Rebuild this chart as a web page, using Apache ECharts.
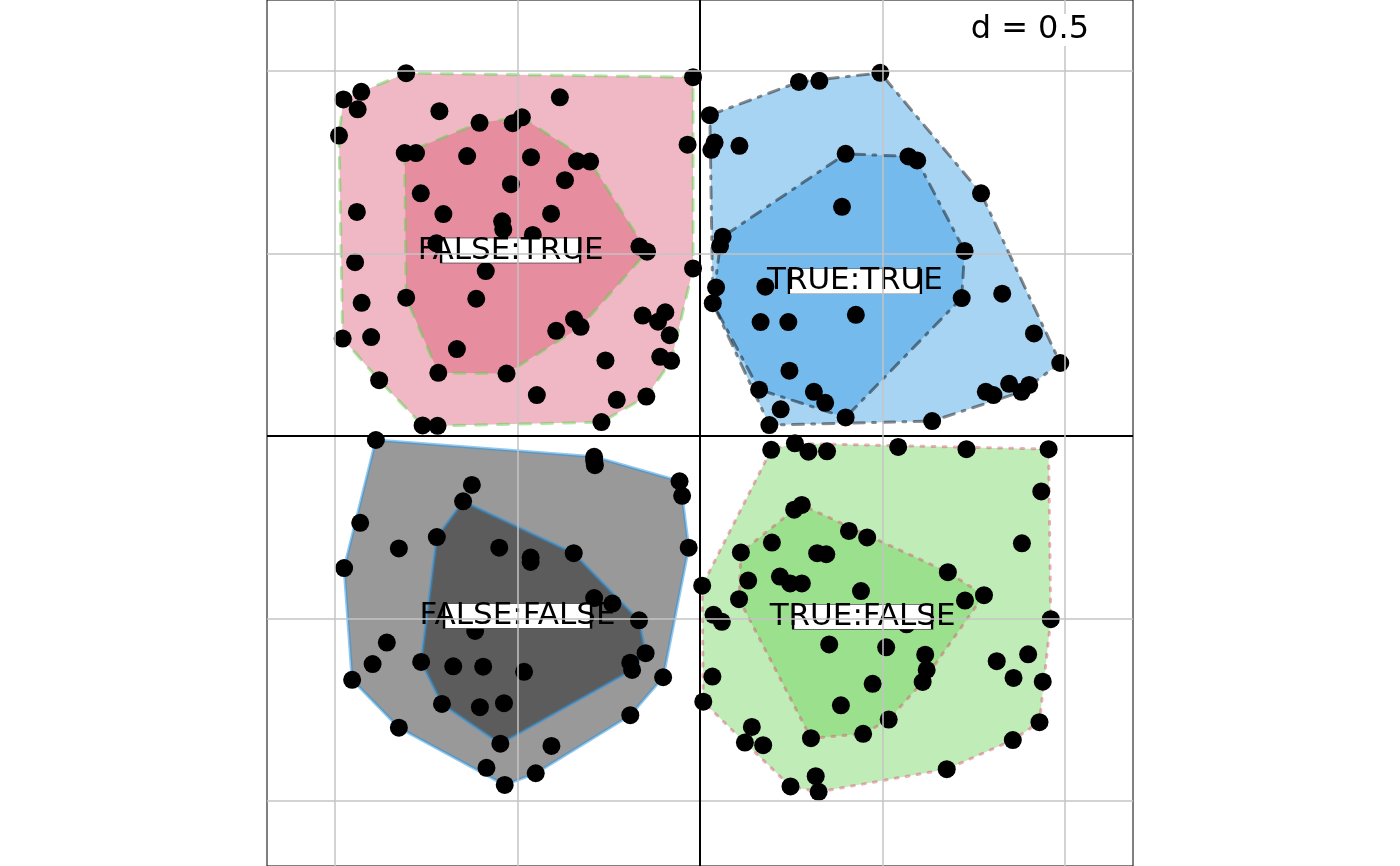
<!DOCTYPE html>
<html lang="en">
<head>
<meta charset="UTF-8">
<title>s.class FALSE/TRUE</title>
<script src="https://cdn.jsdelivr.net/npm/echarts@6.0.0/dist/echarts.min.js"></script>
<style>
	html, body { margin: 0; padding: 0; background: #fff; }
	#main { width: 1400px; height: 866px; }
</style>
</head>
<body>
<div id="main"></div>
<script>
// factor levels, in plotting order
var groups = ['FALSE:FALSE', 'FALSE:TRUE', 'TRUE:FALSE', 'TRUE:TRUE'];

// scores of each group (x, y)
var ptsFalseFalse = [
	[-0.888, -0.011], [-0.290, -0.057], [-0.290, -0.067], [-0.288, -0.080], [-0.056, -0.124],
	[-0.049, -0.164], [-0.625, -0.134], [-0.649, -0.179], [-0.931, -0.238], [-0.825, -0.308],
	[-0.721, -0.277], [-0.550, -0.306], [-0.464, -0.333], [-0.464, -0.345], [-0.346, -0.321],
	[-0.031, -0.306], [-0.975, -0.362], [-0.290, -0.444], [-0.240, -0.459], [-0.167, -0.505],
	[-0.616, -0.534], [-0.149, -0.595], [-0.191, -0.621], [-0.186, -0.641], [-0.101, -0.661],
	[-0.858, -0.566], [-0.897, -0.625], [-0.953, -0.668], [-0.764, -0.619], [-0.676, -0.631],
	[-0.594, -0.632], [-0.482, -0.646], [-0.707, -0.734], [-0.603, -0.743], [-0.537, -0.732],
	[-0.825, -0.799], [-0.191, -0.765], [-0.547, -0.843], [-0.407, -0.849], [-0.585, -0.909],
	[-0.450, -0.924], [-0.535, -0.956]
];
var ptsFalseTrue = [
	[-0.805, 0.994], [-0.928, 0.943], [-0.977, 0.922], [-0.938, 0.895], [-0.989, 0.823],
	[-0.714, 0.890], [-0.604, 0.858], [-0.513, 0.857], [-0.488, 0.873], [-0.384, 0.928],
	[-0.019, 0.983], [-0.034, 0.798], [-0.809, 0.775], [-0.778, 0.775], [-0.638, 0.767],
	[-0.463, 0.764], [-0.337, 0.753], [-0.301, 0.752], [-0.370, 0.701], [-0.518, 0.690],
	[-0.765, 0.665], [-0.703, 0.608], [-0.542, 0.588], [-0.539, 0.566], [-0.408, 0.609],
	[-0.940, 0.614], [-0.722, 0.528], [-0.458, 0.551], [-0.166, 0.519], [-0.145, 0.505],
	[-0.945, 0.476], [-0.019, 0.459], [-0.587, 0.452], [-0.805, 0.379], [-0.613, 0.376],
	[-0.927, 0.365], [-0.157, 0.330], [-0.095, 0.339], [-0.115, 0.313], [-0.083, 0.276],
	[-0.345, 0.320], [-0.327, 0.299], [-0.394, 0.288], [-0.979, 0.267], [-0.901, 0.271],
	[-0.666, 0.238], [-0.259, 0.207], [-0.109, 0.217], [-0.079, 0.206], [-0.879, 0.153],
	[-0.717, 0.173], [-0.530, 0.171], [-0.447, 0.112], [-0.228, 0.099], [-0.147, 0.108],
	[-0.270, 0.038], [-0.760, 0.029], [-0.719, 0.028]
];
var ptsTrueFalse = [
	[0.195, -0.038], [0.260, -0.020], [0.297, -0.043], [0.348, -0.042], [0.543, -0.030],
	[0.730, -0.036], [0.955, -0.036], [0.935, -0.152], [0.258, -0.202], [0.279, -0.189],
	[0.882, -0.294], [0.408, -0.260], [0.458, -0.278], [0.112, -0.319], [0.197, -0.292],
	[0.321, -0.321], [0.346, -0.324], [0.679, -0.373], [0.778, -0.436], [0.726, -0.451],
	[0.006, -0.410], [0.132, -0.396], [0.107, -0.447], [0.219, -0.385], [0.247, -0.404],
	[0.279, -0.404], [0.441, -0.425], [0.037, -0.490], [0.060, -0.509], [0.961, -0.502],
	[0.566, -0.516], [0.354, -0.571], [0.510, -0.579], [0.617, -0.599], [0.621, -0.641],
	[0.610, -0.674], [0.813, -0.617], [0.899, -0.598], [0.859, -0.663], [0.939, -0.673],
	[0.473, -0.679], [0.034, -0.659], [0.009, -0.728], [0.386, -0.738], [0.517, -0.777],
	[0.447, -0.816], [0.304, -0.828], [0.142, -0.797], [0.123, -0.840], [0.173, -0.847],
	[0.930, -0.784], [0.857, -0.833], [0.676, -0.913], [0.317, -0.932], [0.248, -0.960],
	[0.325, -0.975]
];
var ptsTrueTrue = [
	[0.494, 0.995], [0.271, 0.970], [0.327, 0.973], [0.027, 0.879], [0.040, 0.804],
	[0.031, 0.784], [0.108, 0.795], [0.399, 0.773], [0.571, 0.766], [0.595, 0.755],
	[0.770, 0.665], [0.389, 0.628], [0.062, 0.546], [0.055, 0.521], [0.725, 0.507],
	[0.044, 0.407], [0.179, 0.409], [0.035, 0.364], [0.717, 0.378], [0.828, 0.390],
	[0.166, 0.312], [0.242, 0.312], [0.427, 0.332], [0.915, 0.281], [0.987, 0.200],
	[0.245, 0.179], [0.162, 0.127], [0.312, 0.121], [0.343, 0.091], [0.221, 0.073],
	[0.399, 0.051], [0.190, 0.030], [0.636, 0.041], [0.783, 0.121], [0.804, 0.112],
	[0.847, 0.143], [0.881, 0.121], [0.902, 0.140]
];

// reference grid and the shown window
var gridTicks = [-1, -0.5, 0, 0.5, 1];
var gridLabel = 'd = 0.5';
var xLim = [-1.1863, 1.1863];
var yLim = [-1.1781, 1.1945];
// fractions of points kept in each convex hull
var chullSize = [1, 0.5];

var groupPoints = [ptsFalseFalse, ptsFalseTrue, ptsTrueFalse, ptsTrueTrue];

var fillCols = ['rgba(0,0,0,0.4)', 'rgba(217,77,107,0.4)', 'rgba(98,208,78,0.4)', 'rgba(38,148,228,0.4)'];
var lineCols = ['rgba(38,148,228,0.5)', 'rgba(98,208,78,0.5)', 'rgba(217,77,107,0.45)', 'rgba(0,0,0,0.45)'];
var lineDashes = [null, [11, 11], [2.8, 8.3], [2.8, 8.3, 11, 8.3]];

function mean(p) {
	var sx = 0, sy = 0;
	p.forEach(function (q) { sx += q[0]; sy += q[1]; });
	return [sx / p.length, sy / p.length];
}

// R's quantile type 7
function quantile(v, f) {
	var s = v.slice().sort(function (a, b) { return a - b; });
	var h = (s.length - 1) * f, lo = Math.floor(h);
	if (lo + 1 >= s.length) return s[lo];
	return s[lo] + (h - lo) * (s[lo + 1] - s[lo]);
}

function cross(o, a, b) {
	return (a[0] - o[0]) * (b[1] - o[1]) - (a[1] - o[1]) * (b[0] - o[0]);
}

function chull(p) {
	var s = p.slice().sort(function (a, b) { return a[0] - b[0] || a[1] - b[1]; });
	var lower = [], upper = [];
	s.forEach(function (q) {
		while (lower.length >= 2 && cross(lower[lower.length - 2], lower[lower.length - 1], q) <= 0) lower.pop();
		lower.push(q);
	});
	for (var i = s.length - 1; i >= 0; i--) {
		var q = s[i];
		while (upper.length >= 2 && cross(upper[upper.length - 2], upper[upper.length - 1], q) <= 0) upper.pop();
		upper.push(q);
	}
	lower.pop();
	upper.pop();
	return lower.concat(upper);
}

var centers = groupPoints.map(mean);

// hulls: all points, then the half closest to the centre
var polys = [];
groupPoints.forEach(function (p, gi) {
	var c = centers[gi];
	var d = p.map(function (q) { return Math.hypot(q[0] - c[0], q[1] - c[1]); });
	chullSize.forEach(function (f) {
		var lim = quantile(d, f) + 1e-12;
		var sub = p.filter(function (q, i) { return d[i] <= lim; });
		polys.push({ g: gi, pts: chull(sub) });
	});
});

// label boxes are narrower than the text, as in the original
var labelFont = '31px "DejaVu Sans"';
var ctx = document.createElement('canvas').getContext('2d');
ctx.font = labelFont;
var boxW = groups.map(function (g) { return Math.round(ctx.measureText(g).width * 0.75); });

var allPts = [];
groupPoints.forEach(function (p) { allPts = allPts.concat(p); });

var chart = echarts.init(document.getElementById('main'));

var gridLines = [];
gridTicks.forEach(function (v) {
	var ls = v === 0 ? { color: '#000', width: 2 } : { color: '#c4c4c4', width: 1.5 };
	gridLines.push({ xAxis: v, lineStyle: ls });
	gridLines.push({ yAxis: v, lineStyle: ls });
});

chart.setOption({
	animation: false,
	grid: { left: 267, top: 0, width: 866, height: 866, show: true, borderColor: '#000', borderWidth: 1, backgroundColor: 'transparent' },
	xAxis: { type: 'value', min: xLim[0], max: xLim[1], show: false },
	yAxis: { type: 'value', min: yLim[0], max: yLim[1], show: false },
	graphic: [{
		type: 'text',
		right: 1400 - 1089,
		top: 14,
		z: 100,
		style: { text: gridLabel, font: '32px "DejaVu Sans"', fill: '#000', backgroundColor: '#fff' }
	}],
	series: [
		{
			type: 'scatter',
			data: [],
			z: 1,
			silent: true,
			markLine: {
				silent: true,
				animation: false,
				symbol: ['none', 'none'],
				label: { show: false },
				emphasis: { disabled: true },
				lineStyle: { type: 'solid' },
				data: gridLines
			}
		},
		{
			type: 'custom',
			z: 2,
			silent: true,
			data: polys.map(function (p) { return centers[p.g]; }),
			renderItem: function (params, api) {
				var poly = polys[params.dataIndex];
				var g = poly.g;
				return {
					type: 'polygon',
					shape: { points: poly.pts.map(function (q) { return api.coord(q); }) },
					style: {
						fill: fillCols[g],
						stroke: lineCols[g],
						lineWidth: 3,
						lineDash: lineDashes[g],
						lineCap: 'round',
						lineJoin: 'round'
					}
				};
			}
		},
		{
			type: 'scatter',
			z: 3,
			silent: true,
			symbolSize: 18,
			itemStyle: { color: '#000', opacity: 1 },
			data: allPts
		},
		{
			type: 'scatter',
			z: 4,
			silent: true,
			symbol: 'rect',
			symbolSize: function (val, params) { return [boxW[params.dataIndex], 25]; },
			itemStyle: { color: '#fff', borderColor: '#000', borderWidth: 1, opacity: 1 },
			label: {
				show: true,
				position: 'inside',
				formatter: '{b}',
				color: '#000',
				fontSize: 31,
				fontFamily: 'DejaVu Sans'
			},
			data: groups.map(function (g, i) { return { name: g, value: centers[i] }; })
		}
	]
});
</script>
</body>
</html>
